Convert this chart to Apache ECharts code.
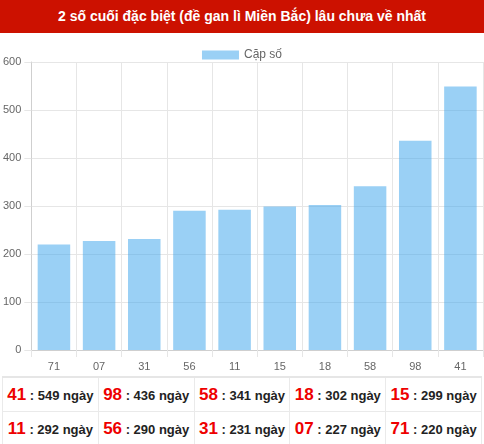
<!DOCTYPE html>
<html>
<head>
<meta charset="utf-8">
<script src="https://cdn.jsdelivr.net/npm/echarts@6/dist/echarts.min.js"></script>
<style>
  body { margin: 0; background: #fff; font-family: Arial, "Liberation Sans", sans-serif; }
  #wrap { width: 484px; height: 444px; position: relative; overflow: hidden; }
  #title {
    height: 33px; line-height: 33px; background: #cc1100; color: #fff;
    font-weight: bold; font-size: 14px; text-align: center;
  }
  #chart { width: 484px; height: 343px; }
  #tbl {
    position: absolute; left: 2px; top: 376px; width: 480px;
    border-collapse: collapse; table-layout: fixed;
  }
  #tbl td {
    border: 1px solid #eaeaea; height: 33px; padding: 0;
    text-align: center; font-size: 13px; font-weight: bold; color: #222; white-space: nowrap;
  }
  #tbl tr:first-child td { border-top: 2px solid #e6e6e6; }
  #tbl td b { color: #ee0000; font-size: 17px; }
</style>
</head>
<body>
<div id="wrap">
  <div id="title">2 số cuối đặc biệt (đề gan lì Miền Bắc) lâu chưa về nhất</div>
  <div id="chart"></div>
  <table id="tbl"></table>
</div>
<script>
// cặp số và số ngày chưa về
const labels = ["71", "07", "31", "56", "11", "15", "18", "58", "98", "41"];
const days = [220, 227, 231, 290, 292, 299, 302, 341, 436, 549];
const yTicks = [0, 100, 200, 300, 400, 500, 600];

const gridColor = "#e6e6e6";
const myChart = echarts.init(document.getElementById("chart"));

const option = {
  animation: false,
  legend: {
    top: 11,
    left: "center",
    itemWidth: 37,
    itemHeight: 9,
    textStyle: { color: "#666", fontSize: 12, fontFamily: "Arial, Liberation Sans" },
    data: [{ name: "Cặp số", icon: "rect" }]
  },
  grid: { left: 30, right: 1, top: 29, bottom: 26, containLabel: false },
  xAxis: {
    type: "category",
    data: labels,
    boundaryGap: true,
    axisLine: { lineStyle: { color: "#cfcfcf" } },
    axisTick: { show: true, length: 7, lineStyle: { color: gridColor } },
    axisLabel: { color: "#666", fontSize: 11, margin: 11, fontFamily: "Arial, Liberation Sans" },
    splitLine: { show: true, lineStyle: { color: gridColor } }
  },
  yAxis: {
    type: "value",
    min: yTicks[0],
    max: yTicks[yTicks.length - 1],
    interval: 100,
    axisLine: { show: true, lineStyle: { color: "#cfcfcf" } },
    axisTick: { show: true, length: 7, lineStyle: { color: gridColor } },
    axisLabel: { color: "#666", fontSize: 11, margin: 10, fontFamily: "Arial, Liberation Sans" },
    splitLine: { show: true, lineStyle: { color: gridColor } }
  },
  series: [
    {
      name: "Cặp số",
      type: "bar",
      data: days,
      barWidth: "72%",
      itemStyle: { color: "rgba(54,162,235,0.5)" }
    }
  ]
};
myChart.setOption(option);

// bảng bên dưới: sắp xếp giảm dần
const tbl = document.getElementById("tbl");
const revLabels = labels.slice().reverse();
const revDays = days.slice().reverse();
for (let r = 0; r < 2; r++) {
  const tr = document.createElement("tr");
  for (let c = 0; c < 5; c++) {
    const i = r * 5 + c;
    const td = document.createElement("td");
    td.innerHTML = `<b>${revLabels[i]}</b> : ${revDays[i]} ngày`;
    tr.appendChild(td);
  }
  tbl.appendChild(tr);
}
</script>
</body>
</html>
